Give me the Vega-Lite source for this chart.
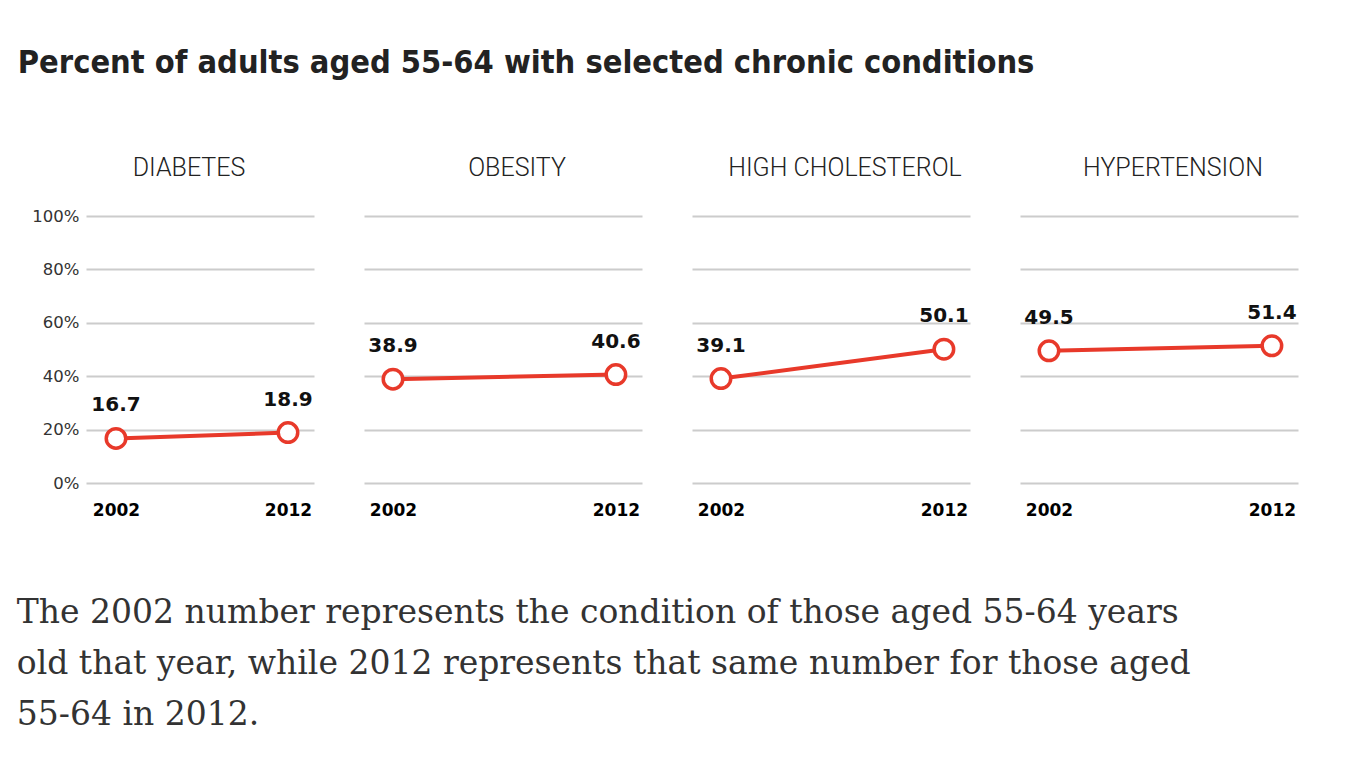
{
  "$schema": "https://vega.github.io/schema/vega-lite/v6.json",
  "background": "white",
  "padding": {"left": 16, "top": 46, "right": 10, "bottom": 10},
  "title": {
    "text": "Percent of adults aged 55-64 with selected chronic conditions",
    "anchor": "start",
    "font": "Liberation Sans Narrow, DejaVu Sans Condensed, Roboto Condensed, sans-serif",
    "fontSize": 32.3,
    "fontWeight": "bold",
    "color": "#222222",
    "dx": 1,
    "offset": 77
  },
  "datasets": {
    "conditions": [
      {"condition": "DIABETES", "year": 2002, "value": 16.7},
      {"condition": "DIABETES", "year": 2012, "value": 18.9},
      {"condition": "OBESITY", "year": 2002, "value": 38.9},
      {"condition": "OBESITY", "year": 2012, "value": 40.6},
      {"condition": "HIGH CHOLESTEROL", "year": 2002, "value": 39.1},
      {"condition": "HIGH CHOLESTEROL", "year": 2012, "value": 50.1},
      {"condition": "HYPERTENSION", "year": 2002, "value": 49.5},
      {"condition": "HYPERTENSION", "year": 2012, "value": 51.4}
    ]
  },
  "data": {"name": "conditions"},
  "vconcat": [
    {
      "title": {
        "text": [
          "The 2002 number represents the condition of those aged 55-64 years",
          "old that year, while 2012 represents that same number for those aged",
          "55-64 in 2012."
        ],
        "orient": "bottom",
        "anchor": "start",
        "font": "DejaVu Serif",
        "fontSize": 33,
        "fontWeight": "normal",
        "color": "#333333",
        "lineHeight": 51,
        "dx": -15,
        "offset": 79
      },
      "spacing": 50,
      "hconcat": [
        {
          "width": 228,
          "height": 267,
          "title": {"text": "DIABETES", "dx": -11, "offset": 27},
          "transform": [{"filter": "datum.condition === 'DIABETES'"}],
          "encoding": {
            "x": {"field": "year", "type": "quantitative", "scale": {"domain": [2000.256, 2013.512], "nice": false, "zero": false},
              "axis": {"values": [2002, 2012], "format": "d"}},
            "y": {"field": "value", "type": "quantitative", "scale": {"domain": [0, 100], "nice": false},
              "axis": {"values": [0, 20, 40, 60, 80, 100], "labels": true, "labelExpr": "datum.label + '%'", "labelFont": "DejaVu Sans", "labelFontSize": 16.5, "labelColor": "#333333", "labelPadding": 7}}
          },
          "layer": [
            {"mark": {"type": "line", "color": "#e8392a", "strokeWidth": 4}},
            {"mark": {"type": "point", "shape": "circle", "filled": true, "fill": "white", "stroke": "#e8392a", "strokeWidth": 3.5, "size": 380, "opacity": 1}},
            {"mark": {"type": "text", "dy": -27, "baseline": "alphabetic", "font": "DejaVu Sans", "fontWeight": "bold", "fontSize": 20, "color": "#111111"},
              "encoding": {"text": {"field": "value", "type": "quantitative", "format": ".1f"}}}
          ]
        },
        {
          "width": 278,
          "height": 267,
          "title": {"text": "OBESITY", "dx": 14},
          "transform": [{"filter": "datum.condition === 'OBESITY'"}],
          "encoding": {
            "x": {"field": "year", "type": "quantitative", "scale": {"domain": [2000.7, 2013.17], "nice": false, "zero": false},
              "axis": {"values": [2002, 2012], "format": "d"}},
            "y": {"field": "value", "type": "quantitative", "scale": {"domain": [0, 100], "nice": false},
              "axis": {"values": [0, 20, 40, 60, 80, 100], "labels": false}}
          },
          "layer": [
            {"mark": {"type": "line", "color": "#e8392a", "strokeWidth": 4}},
            {"mark": {"type": "point", "shape": "circle", "filled": true, "fill": "white", "stroke": "#e8392a", "strokeWidth": 3.5, "size": 380, "opacity": 1}},
            {"mark": {"type": "text", "dy": -27, "baseline": "alphabetic", "font": "DejaVu Sans", "fontWeight": "bold", "fontSize": 20, "color": "#111111"},
              "encoding": {"text": {"field": "value", "type": "quantitative", "format": ".1f"}}}
          ]
        },
        {
          "width": 278,
          "height": 267,
          "title": {"text": "HIGH CHOLESTEROL", "dx": 14},
          "transform": [{"filter": "datum.condition === 'HIGH CHOLESTEROL'"}],
          "encoding": {
            "x": {"field": "year", "type": "quantitative", "scale": {"domain": [2000.7, 2013.17], "nice": false, "zero": false},
              "axis": {"values": [2002, 2012], "format": "d"}},
            "y": {"field": "value", "type": "quantitative", "scale": {"domain": [0, 100], "nice": false},
              "axis": {"values": [0, 20, 40, 60, 80, 100], "labels": false}}
          },
          "layer": [
            {"mark": {"type": "line", "color": "#e8392a", "strokeWidth": 4}},
            {"mark": {"type": "point", "shape": "circle", "filled": true, "fill": "white", "stroke": "#e8392a", "strokeWidth": 3.5, "size": 380, "opacity": 1}},
            {"mark": {"type": "text", "dy": -27, "baseline": "alphabetic", "font": "DejaVu Sans", "fontWeight": "bold", "fontSize": 20, "color": "#111111"},
              "encoding": {"text": {"field": "value", "type": "quantitative", "format": ".1f"}}}
          ]
        },
        {
          "width": 278,
          "height": 267,
          "title": {"text": "HYPERTENSION", "dx": 14},
          "transform": [{"filter": "datum.condition === 'HYPERTENSION'"}],
          "encoding": {
            "x": {"field": "year", "type": "quantitative", "scale": {"domain": [2000.7, 2013.17], "nice": false, "zero": false},
              "axis": {"values": [2002, 2012], "format": "d"}},
            "y": {"field": "value", "type": "quantitative", "scale": {"domain": [0, 100], "nice": false},
              "axis": {"values": [0, 20, 40, 60, 80, 100], "labels": false}}
          },
          "layer": [
            {"mark": {"type": "line", "color": "#e8392a", "strokeWidth": 4}},
            {"mark": {"type": "point", "shape": "circle", "filled": true, "fill": "white", "stroke": "#e8392a", "strokeWidth": 3.5, "size": 380, "opacity": 1}},
            {"mark": {"type": "text", "dy": -27, "baseline": "alphabetic", "font": "DejaVu Sans", "fontWeight": "bold", "fontSize": 20, "color": "#111111"},
              "encoding": {"text": {"field": "value", "type": "quantitative", "format": ".1f"}}}
          ]
        }
      ]
    }
  ],
  "config": {
    "view": {"stroke": null},
    "axisX": {
      "labelFont": "DejaVu Sans",
      "labelFontWeight": "bold",
      "labelFontSize": 17,
      "labelColor": "#000000",
      "labelPadding": 19,
      "domain": false,
      "ticks": false,
      "tickSize": 0,
      "grid": false,
      "title": null
    },
    "axisY": {
      "domain": false,
      "ticks": false,
      "tickSize": 0,
      "grid": true,
      "gridColor": "#cccccc",
      "gridWidth": 2,
      "title": null
    },
    "title": {
      "font": "Roboto",
      "fontSize": 25,
      "fontWeight": 300,
      "color": "#222222",
      "baseline": "alphabetic",
      "offset": 35
    }
  }
}
